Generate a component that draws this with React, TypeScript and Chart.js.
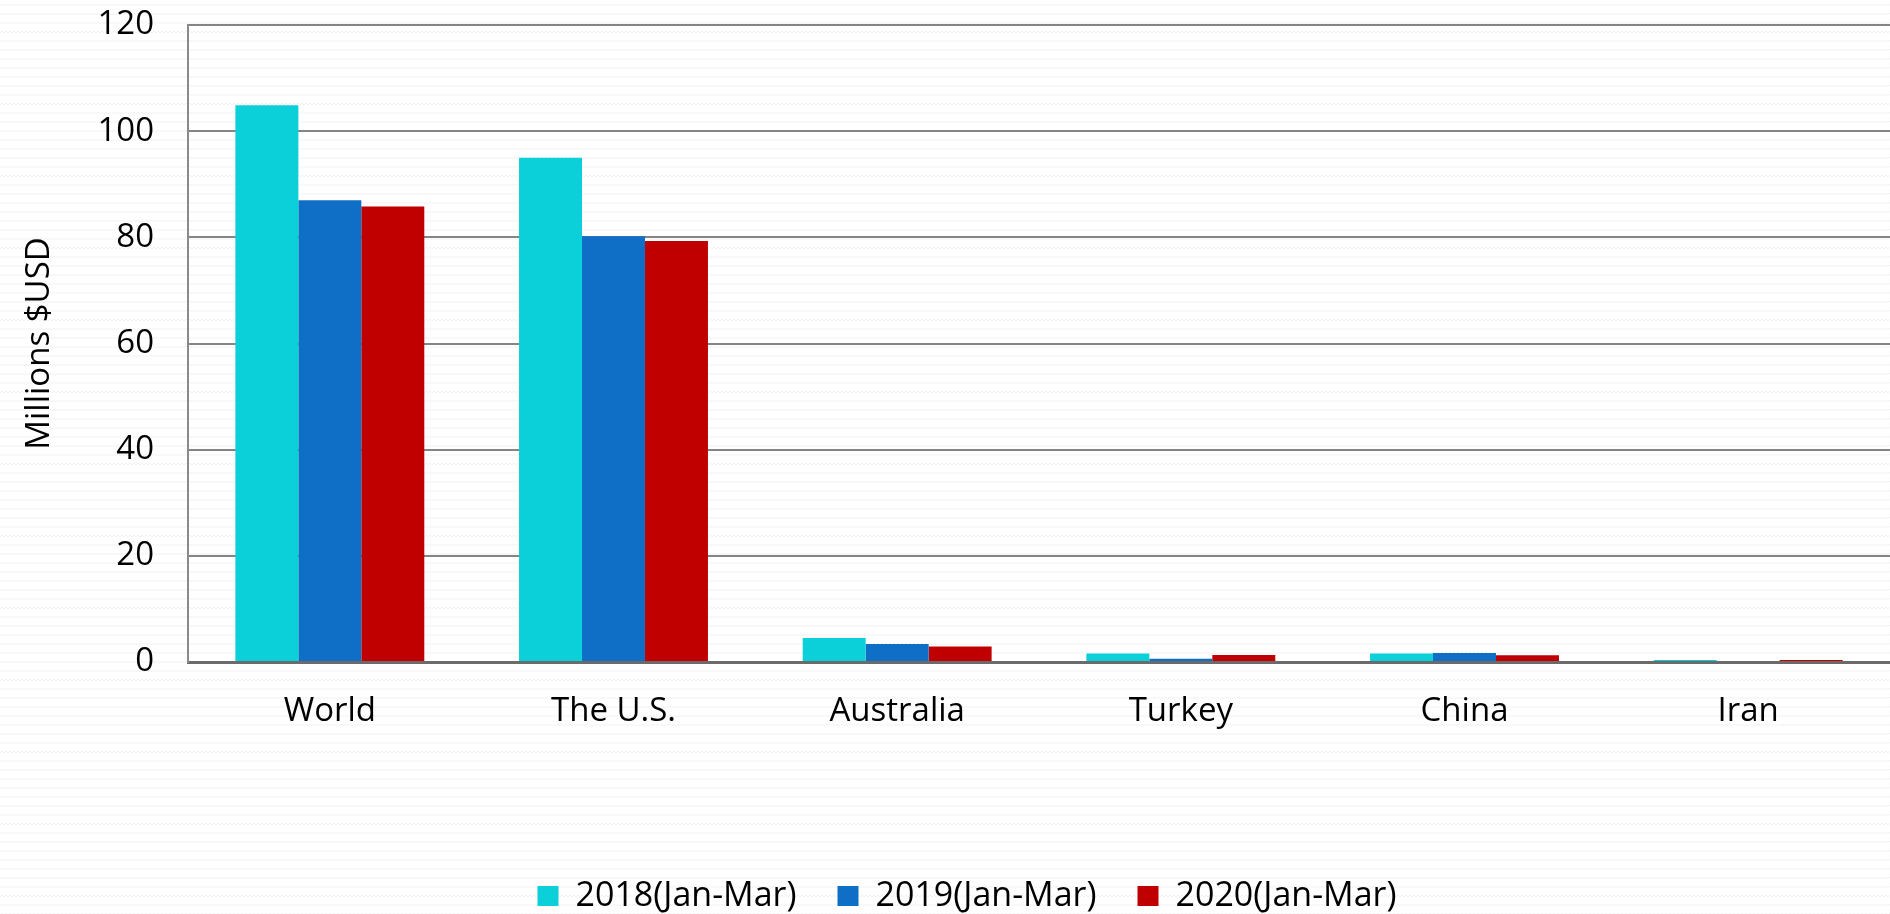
import React, { useEffect, useRef } from "react";
import { Chart, registerables } from "chart.js";

Chart.register(...registerables);

const categories = ["World", "The U.S.", "Australia", "Turkey", "China", "Iran"];
const values2018 = [104.9, 95.0, 4.5, 1.6, 1.6, 0.4];
const values2019 = [87.0, 80.2, 3.4, 0.6, 1.7, 0];
const values2020 = [85.8, 79.3, 2.9, 1.3, 1.25, 0.4];
const seriesLabels = ["2018(Jan-Mar)", "2019(Jan-Mar)", "2020(Jan-Mar)"];
const seriesColors = ["#0bcfd9", "#0f6fc6", "#c00000"];
const yAxisTitle = "Millions $USD";
const yMin = 0;
const yMax = 120;
const yStep = 20;

const W = 1890;
const H = 914;

function makePattern(ctx: CanvasRenderingContext2D) {
  const c = document.createElement("canvas");
  c.width = 8;
  c.height = 9;
  const p = c.getContext("2d")!;
  p.fillStyle = "#ffffff";
  p.fillRect(0, 0, 8, 9);
  p.strokeStyle = "#f2f2f2";
  p.lineWidth = 1;
  p.beginPath();
  p.moveTo(0, 6);
  p.lineTo(2, 4);
  p.lineTo(4, 6);
  p.lineTo(6, 4);
  p.lineTo(8, 6);
  p.stroke();
  return ctx.createPattern(c, "repeat");
}

const bgPlugin = {
  id: "bgPattern",
  beforeDraw(chart: any) {
    const ctx = chart.ctx as CanvasRenderingContext2D;
    ctx.save();
    const pat = makePattern(ctx);
    ctx.fillStyle = pat || "#fbfbfb";
    ctx.fillRect(0, 0, chart.width, chart.height);
    ctx.restore();
  },
};

const legendShiftPlugin = {
  id: "legendShift",
  beforeUpdate(chart: any) {
    const lg = chart.legend;
    if (lg && !lg.__patched) {
      const orig = lg.fit;
      lg.fit = function () {
        orig.call(this);
        this.height = Math.max(0, this.height - 9);
      };
      lg.__patched = true;
    }
  },
  afterLayout(chart: any) {
    const lg = chart.legend;
    if (lg) {
      lg.left += 22;
      lg.right += 22;
    }
  },
};

export default function App() {
  const ref = useRef<HTMLCanvasElement | null>(null);

  useEffect(() => {
    document.body.style.margin = "0";
    const canvas = ref.current;
    if (!canvas) return;
    const datasets = [values2018, values2019, values2020].map((vals, i) => ({
      label: seriesLabels[i],
      data: vals,
      backgroundColor: seriesColors[i],
      borderWidth: 0,
      categoryPercentage: 0.666,
      barPercentage: 1.0,
    }));
    const chart = new Chart(canvas, {
      type: "bar",
      data: { labels: categories, datasets },
      plugins: [bgPlugin, legendShiftPlugin],
      options: {
        animation: false,
        responsive: false,
        maintainAspectRatio: false,
        layout: { padding: { top: 25, right: 0, bottom: 0, left: 0 } },
        plugins: {
          tooltip: { enabled: false },
          legend: {
            position: "bottom",
            labels: {
              boxWidth: 21,
              boxHeight: 20,
              padding: 41,
              color: "#000",
              font: { family: "'Open Sans', sans-serif", size: 34 },
            },
          },
        },
        scales: {
          x: {
            grid: { display: false, drawTicks: false },
            border: { display: true, color: "#6b6b6b", width: 3 },
            ticks: {
              color: "#000",
              padding: 30,
              font: { family: "'Open Sans', sans-serif", size: 33 },
            },
            afterFit(scale: any) {
              const lh = scale.chart.legend ? scale.chart.legend.height : 0;
              scale.height = H - 662 - lh;
            },
          },
          y: {
            min: yMin,
            max: yMax,
            grid: {
              color: "#858585",
              lineWidth: 2,
              drawTicks: true,
              tickLength: 34,
              tickColor: "rgba(0,0,0,0)",
            },
            border: { display: true, color: "#8a8a8a", width: 2 },
            ticks: {
              stepSize: yStep,
              color: "#000",
              padding: 0,
              font: { family: "'Open Sans', sans-serif", size: 33 },
            },
            title: {
              display: true,
              text: yAxisTitle,
              color: "#000",
              padding: { top: 20, bottom: 0 },
              font: { family: "'Open Sans', sans-serif", size: 33 },
            },
            afterFit(scale: any) {
              scale.width = 188;
            },
          },
        },
      },
    });
    return () => chart.destroy();
  }, []);

  return (
    <div style={{ position: "absolute", left: 0, top: 0, width: W, height: H }}>
      <canvas ref={ref} width={W} height={H} style={{ width: W, height: H, display: "block" }} />
    </div>
  );
}
